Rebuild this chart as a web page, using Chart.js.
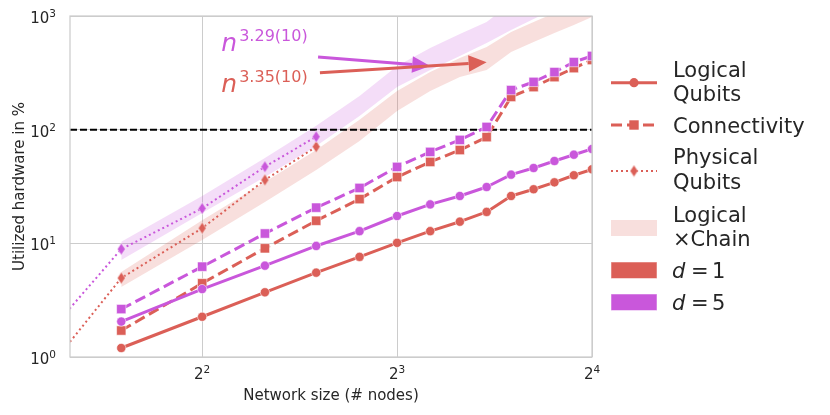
<!DOCTYPE html>
<html><head><meta charset="utf-8">
<script src="https://cdn.jsdelivr.net/npm/chart.js@4.4.0/dist/chart.umd.min.js"></script>
<style>html,body{margin:0;padding:0;background:#fff;}canvas{display:block;}</style>
</head><body>
<canvas id="c" width="830" height="415"></canvas>
<script>
// ---------- data ----------
const nodes = [3,4,5,6,7,8,9,10,11,12,13,14,15,16];
const logicalD1 = [1.2, 2.26, 3.71, 5.52, 7.6, 10.1, 12.8, 15.5, 18.9, 26.1, 29.9, 34.4, 39.7, 44.8];
const logicalD5 = [2.05, 3.96, 6.36, 9.48, 12.8, 17.4, 22.0, 26.1, 31.3, 40.2, 46.0, 53.0, 60.2, 67.6];
const connD1 = [1.71, 4.45, 9.04, 15.8, 24.5, 38.3, 52, 66.2, 86, 194, 237, 290, 348, 410];
const connD5 = [2.64, 6.23, 12.2, 20.6, 30.7, 47, 63.7, 81.2, 105.6, 223, 263, 321, 393, 445];
const physNodes = [2,3,4,5,6];
const physD1 = [0.28, 4.95, 13.6, 36.1, 70.8];
const physD5 = [0.62, 8.9, 20.3, 47.2, 86.7];
const chainD1Upper = [5.6, 16.0, 34.6, 66.2, 122, 219, 322, 427, 533, 723, 885, 1062, 1275, 1500];
const chainD1Lower = [4.13, 10.7, 23.1, 44.2, 79.5, 146, 219, 291, 335, 482, 590, 708, 833, 979];
const chainD5Upper = [10.3, 26.1, 56.3, 108, 198, 363, 523, 695, 885, 1300, 1625, 1950, 2340, 2750];
const chainD5Lower = [7.13, 18.5, 38.3, 71.8, 132, 237, 335, 445, 579, 753, 941, 1150, 1380, 1625];
const threshold = 100;
const xLimits = [2.5, 16];
const yLimits = [1, 1000];
const xTickValues = [4, 8, 16];
const xTickBase = '2';
const xTickExp = ['2', '3', '4'];
const yTickValues = [1, 10, 100, 1000];
const yTickBase = '10';
const yTickExp = ['0', '1', '2', '3'];
const fitLabels = ['3.29(10)', '3.35(10)'];
const fitLabelAnchor = [[4.28, 492], [4.28, 214]];
const arrowTail = [[6.04, 436], [6.08, 317]];
const arrowTip = [[9.0, 363], [11.0, 391]];
const legendLabels = [['Logical','Qubits'], ['Connectivity'], ['Physical','Qubits'], ['Logical','×Chain'], ['1'], ['5']];

// ---------- style ----------
const RED = '#DB5F57', PURPLE = '#C957DB';
const RED_BAND = 'rgba(219,95,87,0.2)', PURPLE_BAND = 'rgba(201,87,219,0.2)';
const FONT = "'DejaVu Sans', sans-serif";
const TEXT = '#262626';
const GRID = '#cccccc';
const EDGE = 'rgba(255,255,255,0.7)';

function pts(xs, ys) { return xs.map((x, i) => ({x: x, y: ys[i]})); }
function diamond(color) {
  const c = document.createElement('canvas'); c.width = 9; c.height = 13;
  const g = c.getContext('2d');
  g.fillStyle = color; g.beginPath();
  g.moveTo(4.5, 0.5); g.lineTo(8.5, 6.5); g.lineTo(4.5, 12.5); g.lineTo(0.5, 6.5); g.closePath();
  g.fill(); g.strokeStyle = EDGE; g.lineWidth = 0.8; g.stroke();
  return c;
}
const diaRed = diamond(RED), diaPurple = diamond(PURPLE);

function band(data, color, fill, order) {
  return {data: data, borderWidth: 0, pointRadius: 0, backgroundColor: color, borderColor: 'rgba(0,0,0,0)',
    fill: fill, order: order, clip: 0, tension: 0};
}
function line(data, color, kind, order, pstyle) {
  const ds = {data: data, borderColor: color, backgroundColor: color, pointBackgroundColor: color,
    pointBorderColor: EDGE, pointBorderWidth: 0.8, fill: false, order: order, clip: 0, tension: 0,
    borderCapStyle: 'butt', borderJoinStyle: 'round'};
  if (kind === 'solid') { ds.borderWidth = 3; ds.pointStyle = 'circle'; ds.pointRadius = 4.6; }
  if (kind === 'dash') { ds.borderWidth = 3; ds.borderDash = [11, 5]; ds.pointStyle = 'rect'; ds.pointRadius = 6.6; }
  if (kind === 'dot') { ds.borderWidth = 2; ds.borderDash = [2, 3]; ds.pointStyle = pstyle; ds.pointRadius = 5; }
  return ds;
}

const datasets = [
  band(pts(nodes, chainD5Upper), PURPLE_BAND, false, 30),
  band(pts(nodes, chainD5Lower), PURPLE_BAND, '-1', 30),
  band(pts(nodes, chainD1Upper), RED_BAND, false, 29),
  band(pts(nodes, chainD1Lower), RED_BAND, '-1', 29),
  {data: [{x: xLimits[0], y: threshold}, {x: xLimits[1], y: threshold}], borderColor: '#000', borderWidth: 2,
   borderDash: [7, 3], pointRadius: 0, fill: false, order: 20, clip: 0, borderCapStyle: 'butt'},
  line(pts(physNodes, physD1), RED, 'dot', 12, diaRed),
  line(pts(physNodes, physD5), PURPLE, 'dot', 11, diaPurple),
  line(pts(nodes, connD1), RED, 'dash', 6),
  line(pts(nodes, connD5), PURPLE, 'dash', 5),
  line(pts(nodes, logicalD1), RED, 'solid', 2),
  line(pts(nodes, logicalD5), PURPLE, 'solid', 1)
];

const BASE_FONT = '15px ' + FONT, SUP_FONT = '10.5px ' + FONT;

const overlay = {
  id: 'overlay',
  afterDatasetsDraw(chart) {
    const ctx = chart.ctx, a = chart.chartArea;
    ctx.save();
    ctx.strokeStyle = GRID; ctx.lineWidth = 1.25;
    ctx.strokeRect(a.left, a.top, a.right - a.left, a.bottom - a.top);
    ctx.restore();
  },
  afterDraw(chart) {
    const ctx = chart.ctx, a = chart.chartArea;
    const xs = chart.scales.x, ys = chart.scales.y;
    ctx.save();
    ctx.fillStyle = TEXT; ctx.textBaseline = 'alphabetic';
    // tick labels with superscripts
    xTickValues.forEach((v, i) => {
      const px = xs.getPixelForValue(v);
      ctx.font = BASE_FONT; const wb = ctx.measureText(xTickBase).width;
      ctx.font = SUP_FONT; const we = ctx.measureText(xTickExp[i]).width;
      const x0 = px - (wb + we) / 2;
      ctx.font = BASE_FONT; ctx.textAlign = 'left'; ctx.fillText(xTickBase, x0, a.bottom + 22);
      ctx.font = SUP_FONT; ctx.fillText(xTickExp[i], x0 + wb, a.bottom + 16);
    });
    yTickValues.forEach((v, i) => {
      const py = ys.getPixelForValue(v);
      ctx.font = SUP_FONT; const we = ctx.measureText(yTickExp[i]).width;
      ctx.font = BASE_FONT; const wb = ctx.measureText(yTickBase).width;
      const xr = a.left - 14;
      ctx.textAlign = 'left';
      ctx.font = BASE_FONT; ctx.fillText(yTickBase, xr - we - wb, py + 7);
      ctx.font = SUP_FONT; ctx.fillText(yTickExp[i], xr - we, py + 1);
    });
    // axis titles
    ctx.font = '15px ' + FONT; ctx.textAlign = 'center';
    ctx.fillText('Network size (# nodes)', (a.left + a.right) / 2, 400);
    ctx.save(); ctx.translate(24, (a.top + a.bottom) / 2); ctx.rotate(-Math.PI / 2);
    ctx.fillText('Utilized hardware in %', 0, 0); ctx.restore();

    // fit annotations
    const cols = [PURPLE, RED];
    for (let i = 0; i < 2; i++) {
      const c = cols[i];
      const lx = xs.getPixelForValue(fitLabelAnchor[i][0]), ly = ys.getPixelForValue(fitLabelAnchor[i][1]);
      ctx.fillStyle = c; ctx.textAlign = 'left'; ctx.textBaseline = 'alphabetic';
      ctx.font = 'italic 25px ' + FONT; ctx.fillText('n', lx, ly);
      ctx.font = '16px ' + FONT; ctx.fillText(fitLabels[i], lx + 18, ly - 10);
      const tx = xs.getPixelForValue(arrowTail[i][0]), ty = ys.getPixelForValue(arrowTail[i][1]);
      const hx = xs.getPixelForValue(arrowTip[i][0]), hy = ys.getPixelForValue(arrowTip[i][1]);
      const ang = Math.atan2(hy - ty, hx - tx), L = 18, W = 8.3;
      const bx = hx - L * Math.cos(ang), by = hy - L * Math.sin(ang);
      ctx.strokeStyle = c; ctx.lineWidth = 3; ctx.lineCap = 'butt';
      ctx.beginPath(); ctx.moveTo(tx, ty); ctx.lineTo(bx, by); ctx.stroke();
      ctx.beginPath(); ctx.moveTo(hx, hy);
      ctx.lineTo(bx + W * Math.sin(ang), by - W * Math.cos(ang));
      ctx.lineTo(bx - W * Math.sin(ang), by + W * Math.cos(ang));
      ctx.closePath(); ctx.fill();
    }

    // legend
    const x0 = 611, x1 = 657, xm = 634, tx0 = 673;
    ctx.lineCap = 'butt';
    ctx.strokeStyle = RED; ctx.fillStyle = RED; ctx.lineWidth = 3; ctx.setLineDash([]);
    ctx.beginPath(); ctx.moveTo(x0, 82.7); ctx.lineTo(x1, 82.7); ctx.stroke();
    ctx.beginPath(); ctx.arc(xm, 82.7, 4.6, 0, Math.PI * 2); ctx.fill();
    ctx.setLineDash([11, 5]);
    ctx.beginPath(); ctx.moveTo(x0, 125); ctx.lineTo(x1, 125); ctx.stroke();
    ctx.setLineDash([]); ctx.fillRect(xm - 4.7, 125 - 4.7, 9.4, 9.4);
    ctx.lineWidth = 2; ctx.setLineDash([2, 3]);
    ctx.beginPath(); ctx.moveTo(x0, 171); ctx.lineTo(x1, 171); ctx.stroke();
    ctx.setLineDash([]); ctx.drawImage(diaRed, xm - 4.5, 171 - 6.5);
    ctx.fillStyle = RED_BAND; ctx.fillRect(x0, 220, x1 - x0, 16);
    ctx.fillStyle = RED; ctx.fillRect(x0, 262, x1 - x0, 16.5);
    ctx.fillStyle = PURPLE; ctx.fillRect(x0, 294, x1 - x0, 16.5);
    ctx.strokeStyle = 'rgba(255,255,255,0.5)'; ctx.lineWidth = 1;
    ctx.strokeRect(x0, 262, x1 - x0, 16.5); ctx.strokeRect(x0, 294, x1 - x0, 16.5);

    ctx.fillStyle = TEXT; ctx.textAlign = 'left'; ctx.textBaseline = 'alphabetic';
    ctx.font = '21px ' + FONT;
    ctx.fillText(legendLabels[0][0], tx0, 77); ctx.fillText(legendLabels[0][1], tx0, 101);
    ctx.fillText(legendLabels[1][0], tx0, 132.5);
    ctx.fillText(legendLabels[2][0], tx0, 164); ctx.fillText(legendLabels[2][1], tx0, 189);
    ctx.fillText(legendLabels[3][0], tx0, 221.5); ctx.fillText(legendLabels[3][1], tx0, 245.5);
    const dRows = [[legendLabels[4][0], 278], [legendLabels[5][0], 310]];
    for (const [v, yb] of dRows) {
      ctx.font = 'italic 21px ' + FONT; ctx.fillText('d', tx0 - 1, yb);
      ctx.font = '21px ' + FONT; ctx.fillText('=', 691, yb); ctx.fillText(v, 712, yb);
    }
    ctx.restore();
  }
};

new Chart(document.getElementById('c'), {
  type: 'line',
  data: {datasets: datasets},
  options: {
    responsive: false, animation: false, events: [],
    devicePixelRatio: 1,
    layout: {padding: {top: 16, right: 238, left: 0, bottom: 0}, autoPadding: false},
    plugins: {legend: {display: false}, tooltip: {enabled: false}, title: {display: false}},
    scales: {
      x: {
        type: 'logarithmic', min: xLimits[0], max: xLimits[1],
        afterBuildTicks(s) { s.ticks = xTickValues.map(v => ({value: v, major: true})); },
        afterFit(s) { s.height = 58; },
        ticks: {display: false},
        grid: {color: GRID, lineWidth: 1, drawTicks: false},
        border: {display: false}
      },
      y: {
        type: 'logarithmic', min: yLimits[0], max: yLimits[1],
        afterBuildTicks(s) { s.ticks = yTickValues.map(v => ({value: v, major: true})); },
        afterFit(s) { s.width = 70; },
        ticks: {display: false},
        grid: {color: GRID, lineWidth: 1, drawTicks: false},
        border: {display: false}
      }
    }
  },
  plugins: [overlay]
});
</script>
</body></html>
